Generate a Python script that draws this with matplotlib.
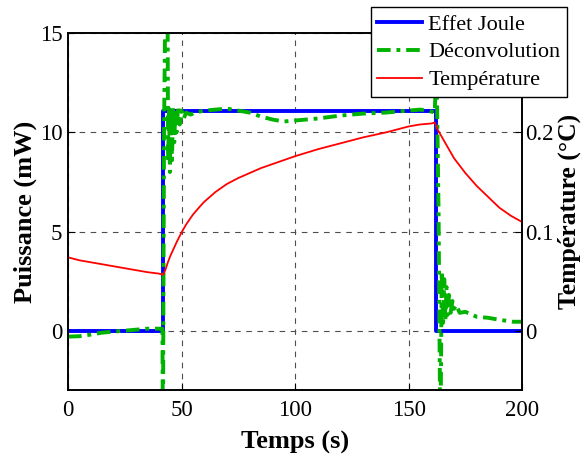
import numpy as np
import matplotlib
matplotlib.use('Agg')
import matplotlib.pyplot as plt

plt.rcParams['font.family'] = ['Liberation Serif', 'DejaVu Serif']

# Effet Joule (mW)
t_joule = [0, 41.8, 41.8, 161.9, 161.9, 200]
p_joule = [0, 0, 11.1, 11.1, 0, 0]

# Deconvolution (mW)
t_deconv = [0, 5, 10, 15, 20, 25, 30, 35, 40, 41.6, 41.8, 42.3, 43.6, 44.1, 44.5,
            44.9, 45.3, 45.8, 46.3, 46.8, 47.3, 47.8, 48.5, 49.2, 50, 51, 52, 54,
            56, 60, 65, 70, 75, 80, 85, 90, 95, 100, 105, 110, 120, 130, 140, 150,
            155, 158, 160, 161.5, 162.3, 163.2, 164.0, 164.6, 165.2, 165.7, 166.2,
            166.7, 167.2, 167.8, 168.5, 169.3, 170, 171, 172.5, 175, 180, 185, 190,
            196, 200]
p_deconv = [-0.3, -0.28, -0.2, -0.1, -0.05, 0, 0.05, 0.1, 0.1, 0.1, -6, 10, 25, 8.5,
            11.3, 8.0, 11.2, 8.6, 11.3, 9.5, 11.2, 10.0, 11.3, 10.4, 11.1, 10.7, 11.0,
            10.9, 11.0, 11.1, 11.15, 11.2, 11.1, 11.0, 10.8, 10.65, 10.55, 10.6, 10.65,
            10.7, 10.85, 10.95, 11.0, 11.1, 11.15, 11.1, 11.05, 11.0, 13.5, 6, -6, 3.0,
            0.4, 2.6, 0.5, 2.2, 0.8, 1.8, 0.9, 1.5, 1.1, 1.3, 0.9, 0.95, 0.7, 0.65,
            0.55, 0.45, 0.45]

# Temperature (degC)
t_temp = [0, 5, 10, 15, 20, 25, 30, 35, 40, 42, 43, 44, 45, 46, 48, 50, 52, 55, 58,
          60, 65, 70, 75, 80, 85, 90, 95, 100, 110, 120, 130, 140, 150, 155, 160,
          161.5, 163, 165, 168, 170, 175, 180, 185, 190, 195, 200]
temp = [0.074, 0.071, 0.069, 0.067, 0.065, 0.063, 0.061, 0.059, 0.0576, 0.0564,
        0.062, 0.069, 0.075, 0.080, 0.090, 0.099, 0.107, 0.117, 0.125, 0.130, 0.140,
        0.148, 0.154, 0.159, 0.164, 0.168, 0.172, 0.176, 0.183, 0.189, 0.195, 0.200,
        0.206, 0.208, 0.209, 0.210, 0.202, 0.194, 0.182, 0.174, 0.159, 0.146, 0.135,
        0.124, 0.116, 0.1096]

fig = plt.figure(figsize=(5.86, 4.59), dpi=100)
ax = fig.add_axes([0.116, 0.150, 0.775, 0.7775])

l1, = ax.plot(t_joule, p_joule, color='#0000ff', lw=2.8)
l2, = ax.plot(t_deconv, p_deconv, color='#00b300', lw=2.8,
              linestyle=(0, (3.5, 1.5, 1, 1.5)))
ax.set_xlim(0, 200)
ax.set_ylim(-3, 15)
ax.set_xticks([0, 50, 100, 150, 200])
ax.set_yticks([0, 5, 10, 15])
ax.grid(True, linestyle=(0, (5, 5)), color='0.3', lw=0.8)
ax.tick_params(direction='in', length=5, labelsize=16.5)
ax.tick_params(axis='x', pad=7)
ax.tick_params(axis='y', pad=4)
ax.set_xlabel('Temps (s)', fontsize=19, fontweight='bold', labelpad=7)
ax.set_ylabel('Puissance (mW)', fontsize=19, fontweight='bold', labelpad=2)

ax2 = ax.twinx()
l3, = ax2.plot(t_temp, temp, color='#ff0000', lw=1.3)
ax2.set_ylim(-0.06, 0.30)
ax2.set_yticks([0, 0.1, 0.2])
ax2.set_yticklabels(['0', '0.1', '0.2'])
ax2.tick_params(direction='in', length=5, labelsize=16.5, pad=2)
ax2.set_ylabel('Température (°C)', fontsize=18.5, fontweight='bold', labelpad=3)

for a in (ax, ax2):
    for s in a.spines.values():
        s.set_linewidth(1.2)

leg = fig.legend([l1, l2, l3], ['Effet Joule', 'Déconvolution', 'Température'],
                 loc='upper right', bbox_to_anchor=(0.968, 0.984),
                 bbox_transform=fig.transFigure, fontsize=16, fancybox=False,
                 framealpha=1, edgecolor='black', handlelength=2.0,
                 handletextpad=0.3, labelspacing=0.33, borderpad=0.3,
                 borderaxespad=0)
leg.get_frame().set_linewidth(1.0)

fig.savefig('out.png', dpi=100)
